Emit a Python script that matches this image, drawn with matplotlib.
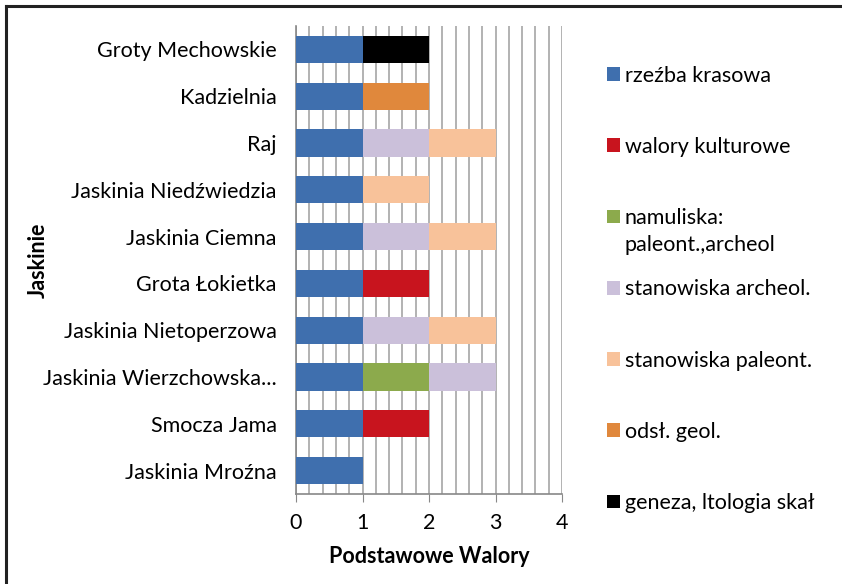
import matplotlib
matplotlib.use("Agg")
import matplotlib.pyplot as plt
from matplotlib.lines import Line2D
from matplotlib.text import Annotation
import numpy as np

plt.rcParams['font.family'] = ['Lato', 'DejaVu Sans']

# caves, bottom to top as drawn
caves = ["Jaskinia Mroźna", "Smocza Jama", "Jaskinia Wierzchowska...",
         "Jaskinia Nietoperzowa", "Grota Łokietka", "Jaskinia Ciemna",
         "Jaskinia Niedźwiedzia", "Raj", "Kadzielnia", "Groty Mechowskie"]

# one list per kind of value, same order as caves
rzezba_krasowa = [1, 1, 1, 1, 1, 1, 1, 1, 1, 1]
walory_kulturowe = [0, 1, 0, 0, 1, 0, 0, 0, 0, 0]
namuliska = [0, 0, 1, 0, 0, 0, 0, 0, 0, 0]
stan_archeol = [0, 0, 1, 1, 0, 1, 0, 1, 0, 0]
stan_paleont = [0, 0, 0, 1, 0, 1, 1, 1, 0, 0]
odsl_geol = [0, 0, 0, 0, 0, 0, 0, 0, 1, 0]
geneza = [0, 0, 0, 0, 0, 0, 0, 0, 0, 1]

series = [rzezba_krasowa, walory_kulturowe, namuliska, stan_archeol,
          stan_paleont, odsl_geol, geneza]
labels = ["rzeźba krasowa", "walory kulturowe", "namuliska:",
          "stanowiska archeol.", "stanowiska paleont.", "odsł. geol.",
          "geneza, ltologia skał"]
label_2nd_line = "paleont.,archeol"  # second line of the "namuliska:" entry
colors = ["#3F6FAE", "#C8141E", "#8CAA4C", "#CBC0DA", "#F8C29A", "#E0883C", "#000000"]

fig = plt.figure(figsize=(8.42, 5.84), dpi=100)
ax = fig.add_axes([296 / 842, 1 - 494 / 584, 266 / 842, 468 / 584])

y = np.arange(len(caves))
left = np.zeros(len(caves))
handles = []
for vals, lab, col in zip(series, labels, colors):
    vals = np.array(vals, dtype=float)
    h = ax.barh(y, vals, left=left, height=0.58, color=col, label=lab, zorder=3)
    handles.append(h)
    left += vals

ax.set_xlim(0, 4)
ax.set_ylim(-0.5, len(caves) - 0.5)
ax.set_xticks([0, 1, 2, 3, 4])
ax.set_xticks(np.arange(0, 4.01, 0.2), minor=True)
ax.grid(axis='x', which='both', color='#A6A6A6', linewidth=1.2, zorder=0)
ax.set_yticks(y)
ax.set_yticklabels(caves, fontsize=15.5)
ax.tick_params(axis='y', length=0, pad=14)
ax.tick_params(axis='x', which='major', length=6, color='#888888', labelsize=15.5, pad=8)
ax.tick_params(axis='x', which='minor', length=0)
for s in ['top', 'right']:
    ax.spines[s].set_visible(False)
ax.spines['left'].set_color('#888888')
ax.spines['bottom'].set_color('#888888')
ax.spines['left'].set_linewidth(1.2)
ax.spines['bottom'].set_linewidth(1.2)

ax.set_xlabel("Podstawowe Walory", fontsize=15.5, fontweight='bold', labelpad=9)
fig.text(38 / 842, 1 - 260 / 584, "Jaskinie", rotation=90, fontsize=15.5,
         fontweight='bold', ha='center', va='center')

leg = fig.legend(handles=handles, labels=labels, loc='upper left',
                 bbox_to_anchor=(598 / 842, 1 - 57 / 584), frameon=False,
                 fontsize=15.5, handlelength=0.6, handleheight=0.6, handletextpad=0.25,
                 labelspacing=2.38, borderaxespad=0)
# second line sits under "namuliska:", drawn after the legend so it can follow it
second = Annotation(label_2nd_line, xy=(0, 0), xycoords=leg.get_texts()[2],
                    xytext=(0, -5), textcoords='offset points', ha='left', va='top',
                    fontsize=15.5)
second.set_zorder(leg.get_zorder() + 1)
fig.add_artist(second)

# frame drawn only along the top and left edge, as in the picture
fig.lines.append(Line2D([6 / 842, 6 / 842], [0, 1 - 6 / 584], transform=fig.transFigure,
                        color='#222222', linewidth=2.2))
fig.lines.append(Line2D([6 / 842, 1], [1 - 6 / 584, 1 - 6 / 584], transform=fig.transFigure,
                        color='#222222', linewidth=2.2))

fig.savefig("out.png", dpi=100)
